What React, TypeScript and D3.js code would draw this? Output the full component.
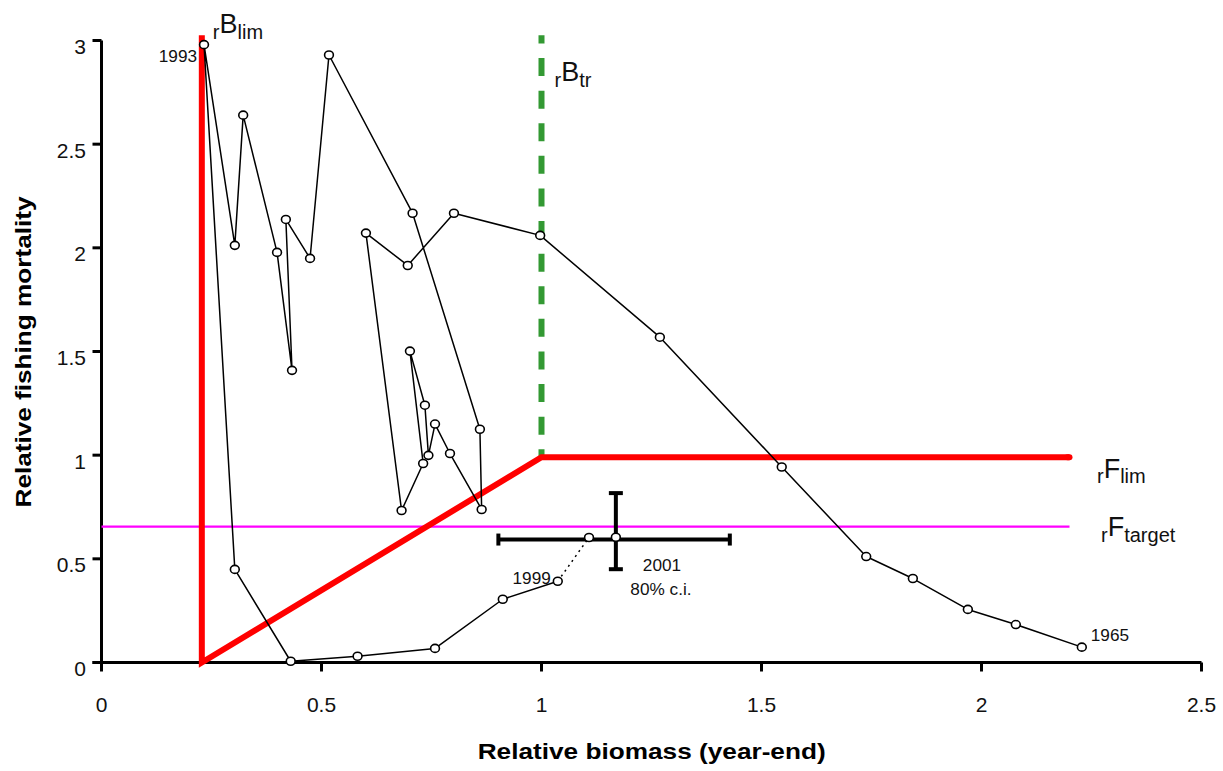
import React from "react";
import * as d3 from "d3";

const years = [1965,1966,1967,1968,1969,1970,1971,1972,1973,1974,1975,1976,1977,1978,1979,1980,1981,1982,1983,1984,1985,1986,1987,1988,1989,1990,1991,1992,1993,1994,1995,1996,1997,1998,1999,2000,2001];
const biomass = [2.228,2.078,1.969,1.844,1.738,1.546,1.269,0.997,0.801,0.696,0.601,0.682,0.731,0.701,0.735,0.743,0.758,0.792,0.864,0.860,0.707,0.517,0.474,0.419,0.433,0.399,0.322,0.303,0.233,0.303,0.430,0.582,0.758,0.912,1.037,1.108,1.169];
const fishing = [0.074,0.183,0.256,0.405,0.511,0.943,1.569,2.060,2.167,1.915,2.071,0.733,0.960,1.502,1.241,0.999,1.150,1.008,0.738,1.125,2.167,2.930,1.949,2.137,1.409,1.978,2.640,2.012,2.980,0.449,0.006,0.030,0.068,0.305,0.392,0.603,0.604];

// reference points
const Blim = 0.228;
const Btr = 1.0;
const Flim = 0.99;
const Ftarget = 0.655;
const refTop = 3.025;
const refEnd = 2.2;

// 2001 80% confidence interval
const ciBiomass = [0.902, 1.428];
const ciFishing = [0.45, 0.817];
const ciBarF = 0.593;

const xTicks = [0, 0.5, 1, 1.5, 2, 2.5];
const xTickLabels = ["0", "0.5", "1", "1.5", "2", "2.5"];
const yTicks = [0, 0.5, 1, 1.5, 2, 2.5, 3];
const yTickLabels = ["0", "0.5", "1", "1.5", "2", "2.5", "3"];

const FONT = "'Liberation Sans', Arial, Helvetica, sans-serif";

export default function App() {
  const W = 1223, H = 771;
  const x = d3.scaleLinear().domain([0, 2.5]).range([101.5, 1201.5]);
  const y = d3.scaleLinear().domain([0, 3]).range([662.5, 40.5]);

  const pts = years.map((yr, i) => ({ yr, b: biomass[i], f: fishing[i] }));
  const line = d3.line<{ b: number; f: number }>().x(d => x(d.b)).y(d => y(d.f));
  const idx1999 = years.indexOf(1999);
  const idx2000 = years.indexOf(2000);
  const idx2001 = years.indexOf(2001);
  const solid = pts.slice(0, idx1999 + 1);
  const dotted = [pts[idx1999], pts[idx2000]];

  const refLine = d3.line<[number, number]>().x(d => x(d[0])).y(d => y(d[1]));
  const redPath = refLine([[Blim, refTop], [Blim, 0], [Btr, Flim], [refEnd, Flim]]);

  const p93 = pts[years.indexOf(1993)];
  const p65 = pts[years.indexOf(1965)];
  const p99 = pts[idx1999];
  const p01 = pts[idx2001];

  const subFs = 20, mainFs = 27;
  const smallFs = 17.2;

  return (
    <svg width={W} height={H} style={{ position: "absolute", left: 0, top: 0, background: "#fff" }} fontFamily={FONT}>
      <rect x={0} y={0} width={W} height={H} fill="#fff" />

      {/* axes */}
      <line x1={x(0)} x2={x(0)} y1={y(3)} y2={y(0)} stroke="#000" strokeWidth={3} />
      <line x1={x(0) - 9} x2={x(2.5)} y1={y(0)} y2={y(0)} stroke="#000" strokeWidth={3.2} />
      {yTicks.map((t, i) => (
        <g key={"yt" + i}>
          <line x1={x(0) - 9} x2={x(0)} y1={y(t)} y2={y(t)} stroke="#000" strokeWidth={3} />
          <text x={86} y={y(t) + 13.5} textAnchor="end" fontSize={21} fill="#111">{yTickLabels[i]}</text>
        </g>
      ))}
      {xTicks.map((t, i) => (
        <g key={"xt" + i}>
          <line x1={x(t)} x2={x(t)} y1={y(0)} y2={y(0) + 9} stroke="#000" strokeWidth={3} />
          <text x={x(t)} y={711.5} textAnchor="middle" fontSize={21} fill="#111">{xTickLabels[i]}</text>
        </g>
      ))}

      {/* axis titles */}
      <text x={651.7} y={759} textAnchor="middle" fontSize={22} fontWeight="bold" textLength={348} lengthAdjust="spacingAndGlyphs" fill="#000">Relative biomass (year-end)</text>
      <text transform={`translate(31,352) rotate(-90)`} textAnchor="middle" fontSize={22} fontWeight="bold" textLength={311} lengthAdjust="spacingAndGlyphs" fill="#000">Relative fishing mortality</text>

      {/* reference lines */}
      <line x1={x(0)} x2={x(refEnd)} y1={y(Ftarget)} y2={y(Ftarget)} stroke="#ff00ff" strokeWidth={2.2} />
      <path d={refLine([[Btr, Flim], [Btr, refTop]]) || ""} fill="none" stroke="#339933" strokeWidth={6} strokeDasharray="18 14.6" strokeDashoffset={10} />
      <path d={redPath || ""} fill="none" stroke="#ff0000" strokeWidth={6} strokeLinejoin="miter" strokeLinecap="butt" />
      <line x1={x(refEnd) - 2} x2={x(refEnd)} y1={y(Flim)} y2={y(Flim)} stroke="#ff0000" strokeWidth={6} strokeLinecap="round" />

      {/* data series */}
      <path d={line(solid) || ""} fill="none" stroke="#000" strokeWidth={1.5} strokeLinejoin="round" />
      <path d={line(dotted) || ""} fill="none" stroke="#000" strokeWidth={1.5} strokeDasharray="2 4" />

      {/* 2001 confidence interval */}
      <g stroke="#000" strokeWidth={4}>
        <line x1={x(ciBiomass[0])} x2={x(ciBiomass[1])} y1={y(ciBarF)} y2={y(ciBarF)} />
        <line x1={x(ciBiomass[0])} x2={x(ciBiomass[0])} y1={y(ciBarF) - 6} y2={y(ciBarF) + 6} />
        <line x1={x(ciBiomass[1])} x2={x(ciBiomass[1])} y1={y(ciBarF) - 6} y2={y(ciBarF) + 6} />
        <line x1={x(p01.b)} x2={x(p01.b)} y1={y(ciFishing[0])} y2={y(ciFishing[1])} />
        <line x1={x(p01.b) - 7} x2={x(p01.b) + 7} y1={y(ciFishing[0])} y2={y(ciFishing[0])} />
        <line x1={x(p01.b) - 7} x2={x(p01.b) + 7} y1={y(ciFishing[1])} y2={y(ciFishing[1])} />
      </g>

      {pts.map((p, i) => (
        <ellipse key={"m" + i} cx={x(p.b)} cy={y(p.f)} rx={4.4} ry={4} fill="#fff" stroke="#000" strokeWidth={1.6} />
      ))}

      {/* year labels */}
      <text x={x(p93.b) - 7} y={y(p93.f) + 17} textAnchor="end" fontSize={smallFs} fill="#111">1993</text>
      <text x={x(p65.b) + 9} y={y(p65.f) - 6} fontSize={smallFs} fill="#111">1965</text>
      <text x={x(p99.b) - 7} y={y(p99.f) + 3} textAnchor="end" fontSize={smallFs} fill="#111">1999</text>
      <text x={x(p01.b) + 27} y={y(p01.f) + 34} fontSize={smallFs} fill="#111">2001</text>
      <text x={x(p01.b) + 14.5} y={y(p01.f) + 58} fontSize={smallFs} fill="#111">80% c.i.</text>

      {/* reference point labels */}
      <text x={x(Blim) + 11} y={33} fill="#111">
        <tspan fontSize={subFs} dy={6}>r</tspan>
        <tspan fontSize={mainFs} dy={-6}>B</tspan>
        <tspan fontSize={subFs} dy={6}>lim</tspan>
      </text>
      <text x={x(Btr) + 13} y={80.7} fill="#111">
        <tspan fontSize={subFs} dy={6}>r</tspan>
        <tspan fontSize={mainFs} dy={-6}>B</tspan>
        <tspan fontSize={subFs} dy={6}>tr</tspan>
      </text>
      <text x={1097} y={478.3} fill="#111">
        <tspan fontSize={subFs} dy={4.5}>r</tspan>
        <tspan fontSize={mainFs} dy={-4.5}>F</tspan>
        <tspan fontSize={subFs} dy={4.5}>lim</tspan>
      </text>
      <text x={1101} y={536} fill="#111">
        <tspan fontSize={subFs} dy={6}>r</tspan>
        <tspan fontSize={mainFs} dy={-6}>F</tspan>
        <tspan fontSize={subFs} dy={6}>target</tspan>
      </text>
    </svg>
  );
}
